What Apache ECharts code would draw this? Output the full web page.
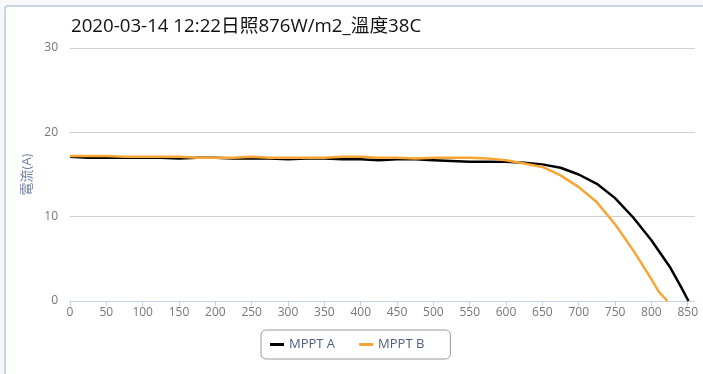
<!DOCTYPE html>
<html>
<head>
<meta charset="utf-8">
<script src="https://cdn.jsdelivr.net/npm/echarts@6/dist/echarts.min.js"></script>
<style>
html,body{margin:0;padding:0;background:#f8f8f8;width:703px;height:374px;overflow:hidden;}
#panel{position:absolute;left:4px;top:5px;width:720px;height:400px;background:#fff;border-left:2px solid #c9d5e8;border-top:2px solid #c9d5e8;border-top-left-radius:4px;}
#chart{position:absolute;left:0;top:0;width:703px;height:374px;}
</style>
</head>
<body>
<div id="panel"></div>
<div id="chart"></div>
<script>
const titleText = '2020-03-14 12:22日照876W/m2_溫度38C';
const yAxisName = '電流(A)';
const seriesNames = ['MPPT A', 'MPPT B'];

const voltageA = [0,25,50,75,100,125,150,175,200,225,250,275,300,325,350,375,400,425,450,475,500,525,550,575,600,625,650,675,700,725,750,775,800,825,840,851];
const currentA = [17.1,17.0,17.0,17.0,17.0,17.0,16.9,17.0,17.0,16.9,16.9,16.9,16.8,16.9,16.9,16.8,16.8,16.7,16.8,16.8,16.7,16.6,16.5,16.5,16.5,16.4,16.2,15.8,15.0,13.9,12.2,9.9,7.2,4.1,1.8,0];

const voltageB = [0,25,50,75,100,125,150,175,200,225,250,275,300,325,350,375,400,425,450,475,500,525,550,575,600,625,650,675,700,725,750,775,800,810,822];
const currentB = [17.2,17.2,17.2,17.1,17.1,17.1,17.1,17.0,17.0,17.0,17.1,17.0,17.0,17.0,17.0,17.1,17.1,17.0,17.0,16.9,17.0,17.0,17.0,16.9,16.7,16.3,15.9,14.9,13.5,11.7,9.1,6.0,2.6,1.1,0];

const chart = echarts.init(document.getElementById('chart'), null, {renderer:'canvas'});
const font = "'Open Sans','Noto Sans CJK TC',sans-serif";
chart.setOption({
  backgroundColor: 'transparent',
  animation: false,
  title: {
    text: titleText,
    left: 71, top: 17, padding: 0,
    textStyle: {fontSize: 18.7, fontWeight: 'normal', color: '#111', fontFamily: font}
  },
  legend: {
    data: seriesNames.map(n => ({name: n, icon: 'rect'})),
    left: 261, top: 330,
    borderColor: '#999', borderWidth: 1, borderRadius: 5,
    padding: [8, 26, 8, 9],
    itemWidth: 14, itemHeight: 3, itemGap: 24,
    textStyle: {color: '#4f5f80', fontSize: 13, fontFamily: font}
  },
  grid: {left: 70, right: 8, top: 48, bottom: 73, containLabel: false},
  xAxis: {
    type: 'value', min: 0, max: 860, interval: 50,
    axisLine: {lineStyle: {color: '#c5d3e8'}},
    axisTick: {lineStyle: {color: '#c5d3e8'}},
    axisLabel: {color: '#777', fontSize: 12, fontFamily: font, showMaxLabel: false, margin: 6},
    splitLine: {show: false}
  },
  yAxis: {
    type: 'value', min: 0, max: 30, interval: 10,
    name: yAxisName, nameLocation: 'middle', nameGap: 32,
    nameTextStyle: {color: '#7080a8', fontSize: 13, fontFamily: font},
    axisLine: {show: false}, axisTick: {show: false},
    axisLabel: {color: '#777', fontSize: 12, fontFamily: font, margin: 12},
    splitLine: {lineStyle: {color: '#d0d0d0'}}
  },
  series: [
    {name: seriesNames[0], type: 'line', symbol: 'none', color: '#000',
     lineStyle: {width: 2.5, color: '#000'},
     data: voltageA.map((v, i) => [v, currentA[i]])},
    {name: seriesNames[1], type: 'line', symbol: 'none', color: '#f7a535',
     lineStyle: {width: 2.5, color: '#f7a535'},
     data: voltageB.map((v, i) => [v, currentB[i]])}
  ]
});
</script>
</body>
</html>
